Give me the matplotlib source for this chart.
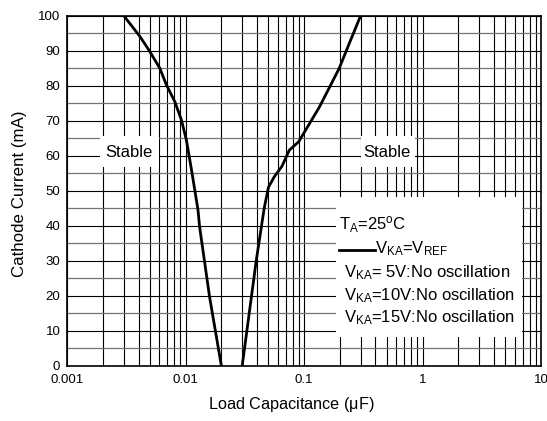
import matplotlib
matplotlib.use("Agg")
import matplotlib.pyplot as plt
from matplotlib.patches import Rectangle

plt.rcParams['font.family'] = ['Liberation Sans', 'DejaVu Sans']
plt.rcParams['mathtext.fontset'] = 'custom'
plt.rcParams['mathtext.rm'] = 'Liberation Sans'
plt.rcParams['mathtext.it'] = 'Liberation Sans'

# Data
left_cap = [0.003, 0.0041, 0.00497, 0.00604, 0.00688, 0.0081, 0.0092, 0.01013, 0.0112, 0.0127, 0.0131, 0.0159, 0.02]
left_cur = [100, 94.1, 89.8, 85, 80.2, 75.4, 70.2, 64.5, 55.9, 44.5, 39.7, 19.7, 0]
right_cap = [0.03, 0.0394, 0.046, 0.05, 0.056, 0.065, 0.075, 0.09, 0.135, 0.198, 0.24, 0.3]
right_cur = [0, 30, 45, 51, 54, 57, 61.6, 64, 74, 85, 92, 100]
x_ticks = [0.001, 0.01, 0.1, 1, 10]
x_tick_labels = ['0.001', '0.01', '0.1', '1', '10']
y_ticks = list(range(0, 101, 10))
y_minor = list(range(5, 100, 10))

fig = plt.figure(figsize=(5.47, 4.21), dpi=100)
ax = fig.add_axes([0.123, 0.1313, 0.866, 0.8314])
ax.set_xscale('log')
ax.set_xlim(0.001, 10)
ax.set_ylim(0, 100)
ax.set_xticks(x_ticks)
ax.set_xticklabels(x_tick_labels)
ax.set_yticks(y_ticks)
ax.set_yticks(y_minor, minor=True)
ax.tick_params(axis='both', which='both', length=0, labelsize=9.5)
ax.tick_params(axis='x', pad=6)
ax.tick_params(axis='y', pad=5)
ax.set_axisbelow(True)
ax.grid(True, axis='x', which='both', color='black', linewidth=0.8)
ax.grid(True, axis='y', which='major', color='black', linewidth=0.8)
ax.grid(True, axis='y', which='minor', color='0.45', linewidth=0.9)
for s in ax.spines.values():
    s.set_linewidth(1.2)

# white boxes
ax.add_patch(Rectangle((0.0019, 56.7), 0.0059 - 0.0019, 65.6 - 56.7, facecolor='white', edgecolor='none', zorder=1))
ax.add_patch(Rectangle((0.302, 56.7), 0.867 - 0.302, 65.6 - 56.7, facecolor='white', edgecolor='none', zorder=1))
ax.add_patch(Rectangle((0.187, 8.2), 6.9 - 0.187, 48.2 - 8.2, facecolor='white', edgecolor='none', zorder=1))

ax.plot(left_cap, left_cur, color='black', lw=2, zorder=3)
ax.plot(right_cap, right_cur, color='black', lw=2, zorder=3)

ax.text(0.0033, 60.9, 'Stable', fontsize=12, ha='center', va='center', zorder=4)
ax.text(0.499, 60.9, 'Stable', fontsize=12, ha='center', va='center', zorder=4)

fs = 12
ax.text(0.198, 38.8, r'T$_{\mathrm{A}}$=25$^{\mathrm{o}}$C', fontsize=fs, ha='left', va='baseline', zorder=4)
ax.plot([0.198, 0.399], [33.2, 33.2], color='black', lw=2, zorder=4)
ax.text(0.399, 32.1, r'V$_{\mathrm{KA}}$=V$_{\mathrm{REF}}$', fontsize=fs, ha='left', va='baseline', zorder=4)
ax.text(0.218, 25.3, r'V$_{\mathrm{KA}}$= 5V:No oscillation', fontsize=fs, ha='left', va='baseline', zorder=4)
ax.text(0.218, 18.8, r'V$_{\mathrm{KA}}$=10V:No oscillation', fontsize=fs, ha='left', va='baseline', zorder=4)
ax.text(0.218, 12.4, r'V$_{\mathrm{KA}}$=15V:No oscillation', fontsize=fs, ha='left', va='baseline', zorder=4)

fig.text(291 / 547, 1 - 405 / 421, r'Load Capacitance ($\mathrm{\mu}$F)', fontsize=11.7, ha='center', va='center')
fig.text(20 / 547, 1 - 194 / 421, 'Cathode Current (mA)', fontsize=12.2, ha='center', va='center', rotation=90)

fig.savefig('out.png', dpi=100)
